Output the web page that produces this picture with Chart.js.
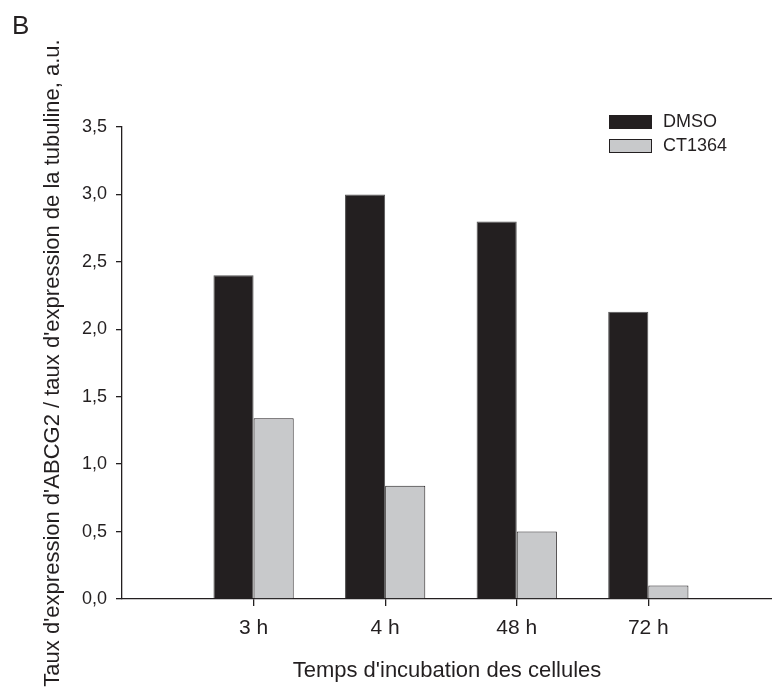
<!DOCTYPE html>
<html>
<head>
<meta charset="utf-8">
<script src="https://cdn.jsdelivr.net/npm/chart.js@4/dist/chart.umd.min.js"></script>
<style>
  body { margin: 0; background: #fff; }
  canvas { display: block; }
</style>
</head>
<body>
<canvas id="chart" width="772" height="691"></canvas>
<script>
const categories = ['3 h', '4 h', '48 h', '72 h'];
const dmsoValues = [2.40, 3.00, 2.80, 2.13];
const ct1364Values = [1.34, 0.84, 0.50, 0.10];
const yTicks = [0, 0.5, 1.0, 1.5, 2.0, 2.5, 3.0, 3.5];

const INK = '#231f20';
const FONT = "'Liberation Sans', Arial, sans-serif";

// panel letter + legend drawn on the canvas
const extras = {
    id: 'extras',
    afterDraw(chart) {
        const ctx = chart.ctx;
        ctx.save();
        ctx.fillStyle = INK;
        ctx.font = `26px ${FONT}`;
        ctx.textBaseline = 'alphabetic';
        ctx.fillText('B', 12, 34);

        ctx.font = `18px ${FONT}`;
        ctx.textBaseline = 'middle';
        chart.data.datasets.forEach((ds, i) => {
            const top = 115 + i * 24;
            ctx.fillStyle = ds.backgroundColor;
            ctx.fillRect(609, top, 43, 14);
            ctx.strokeStyle = INK;
            ctx.lineWidth = 1;
            ctx.strokeRect(609.5, top + 0.5, 42, 13);
            ctx.fillStyle = INK;
            ctx.fillText(ds.label, 663, top + 7.5);
        });
        ctx.restore();
    }
};

new Chart(document.getElementById('chart').getContext('2d'), {
    type: 'bar',
    data: {
        datasets: [{
            label: 'DMSO',
            data: categories.map((c, i) => ({ x: i + 1, y: dmsoValues[i] })),
            backgroundColor: INK,
            borderColor: '#555',
            borderWidth: 1
        }, {
            label: 'CT1364',
            data: categories.map((c, i) => ({ x: i + 1, y: ct1364Values[i] })),
            backgroundColor: '#c8c9cb',
            borderColor: INK,
            borderWidth: 1
        }]
    },
    options: {
        responsive: false,
        animation: false,
        categoryPercentage: 0.61,
        barPercentage: 1.0,
        layout: { padding: { top: 127, right: 0, left: 0, bottom: 0 } },
        plugins: {
            legend: { display: false },
            tooltip: { enabled: false }
        },
        scales: {
            x: {
                type: 'linear',
                min: 0,
                max: 4.94,
                offset: false,
                afterBuildTicks: (scale) => {
                    scale.ticks = categories.map((c, i) => ({ value: i + 1 }));
                },
                afterFit: (scale) => { scale.height = 92; },
                ticks: {
                    color: INK,
                    font: { family: FONT, size: 21 },
                    padding: 10,
                    maxRotation: 0,
                    callback: (v) => categories[v - 1]
                },
                grid: {
                    offset: false,
                    drawOnChartArea: false,
                    drawTicks: true,
                    tickLength: 7,
                    color: INK,
                    lineWidth: 1.3
                },
                border: { display: true, color: INK, width: 1.3 },
                title: {
                    display: true,
                    text: "Temps d'incubation des cellules",
                    color: INK,
                    font: { family: FONT, size: 22 },
                    padding: { top: 0, bottom: 7 }
                }
            },
            y: {
                min: 0,
                max: 3.5,
                afterBuildTicks: (scale) => {
                    scale.ticks = yTicks.map(v => ({ value: v }));
                },
                afterFit: (scale) => { scale.width = 122; },
                ticks: {
                    color: INK,
                    font: { family: FONT, size: 18 },
                    padding: 9,
                    callback: (v) => v.toFixed(1).replace('.', ',')
                },
                grid: {
                    drawOnChartArea: false,
                    drawTicks: true,
                    tickLength: 6,
                    color: INK,
                    lineWidth: 1.3
                },
                border: { display: true, color: INK, width: 1.3 },
                title: {
                    display: true,
                    text: "Taux d'expression d'ABCG2 / taux d'expression de la tubuline, a.u.",
                    color: INK,
                    font: { family: FONT, size: 22 },
                    padding: { top: 40, bottom: 0 }
                }
            }
        }
    },
    plugins: [extras]
});
</script>
</body>
</html>
